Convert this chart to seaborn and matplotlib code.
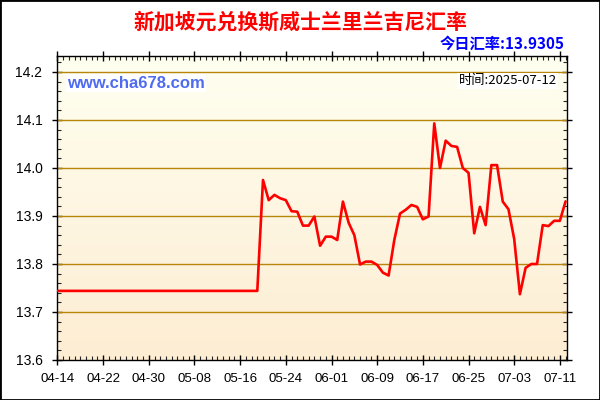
import numpy as np
import pandas as pd
import matplotlib
matplotlib.use("Agg")
import matplotlib.pyplot as plt
import matplotlib.dates as mdates
from matplotlib.colors import LinearSegmentedColormap
from matplotlib.patches import Rectangle
import seaborn as sns

title = "新加坡元兑换斯威士兰里兰吉尼汇率"
today_text = "今日汇率:13.9305"
time_text = "时间:2025-07-12"
site_text = "www.cha678.com"

start_date = "2025-04-14"
end_date = "2025-07-12"
rates = [
    13.744, 13.744, 13.744, 13.744, 13.744, 13.744, 13.744, 13.744, 13.744, 13.744,
    13.744, 13.744, 13.744, 13.744, 13.744, 13.744, 13.744, 13.744, 13.744, 13.744,
    13.744, 13.744, 13.744, 13.744, 13.744, 13.744, 13.744, 13.744, 13.744, 13.744,
    13.744, 13.744, 13.744, 13.744, 13.744, 13.744,
    13.975, 13.933, 13.944, 13.937, 13.933, 13.910, 13.909, 13.880, 13.880, 13.899,
    13.838, 13.857, 13.857, 13.850, 13.930, 13.886, 13.860, 13.799, 13.805, 13.805,
    13.798, 13.782, 13.776, 13.850, 13.905, 13.913, 13.923, 13.919, 13.893, 13.899,
    14.093, 14.000, 14.057, 14.046, 14.044, 14.000, 13.990, 13.864, 13.919, 13.881,
    14.006, 14.006, 13.930, 13.914, 13.852, 13.737, 13.792, 13.800, 13.800, 13.881,
    13.879, 13.890, 13.890, 13.9305,
]
y_ticks = [13.6, 13.7, 13.8, 13.9, 14.0, 14.1, 14.2]
x_tick_labels = ["04-14", "04-22", "04-30", "05-08", "05-16", "05-24",
                 "06-01", "06-09", "06-17", "06-25", "07-03", "07-11"]

dates = pd.date_range(start_date, end_date, freq="D")
df = pd.DataFrame({"date": dates, "rate": rates})

sns.set_theme(style="white")
plt.rcParams["font.family"] = ["Liberation Sans", "Noto Sans CJK SC", "DejaVu Sans"]

fig = plt.figure(figsize=(6, 4), dpi=100)
fig.patch.set_facecolor("white")
ax = fig.add_axes([57 / 600, 1 - 360 / 400, 510 / 600, 304 / 400])

# gradient background
cmap = LinearSegmentedColormap.from_list("bg", ["#FDEDD3", "#FFFFF0"])
grad = np.linspace(0, 1, 256).reshape(-1, 1)
ax.imshow(grad, aspect="auto", cmap=cmap, origin="lower",
          extent=[0, 1, 0, 1], transform=ax.transAxes, zorder=0)

sns.lineplot(data=df, x="date", y="rate", ax=ax, color="#FF0000",
             linewidth=1.9, zorder=3)

ax.set_xlim(pd.Timestamp(start_date) - pd.Timedelta(hours=2),
            pd.Timestamp(end_date) + pd.Timedelta(hours=6))
ax.set_ylim(13.6, 14.2 + 16 / 480)

tick_dates = [pd.Timestamp(f"2025-{t}") for t in x_tick_labels]
ax.set_xticks(tick_dates)
ax.set_xticklabels(x_tick_labels)
ax.xaxis.set_minor_locator(mdates.DayLocator())
ax.set_yticks(y_ticks)
ax.set_yticklabels([f"{v:.1f}" for v in y_ticks])
ax.yaxis.set_minor_locator(matplotlib.ticker.MultipleLocator(0.02))

ax.grid(False)
for v in y_ticks[1:]:
    ax.axhline(v, color="#B8860B", linewidth=1.0, zorder=1)

for s in ax.spines.values():
    s.set_color("black")
    s.set_linewidth(1.0)
    s.set_visible(True)

ax.tick_params(axis="both", which="major", colors="black",
               length=7, width=1, direction="inout",
               top=True, right=True, bottom=True, left=True,
               labeltop=False, labelright=False)
ax.tick_params(axis="both", which="minor", length=3, width=0.8,
               direction="in", top=True, right=True, bottom=True, left=True)
ax.tick_params(axis="x", which="major", pad=6, labelsize=9.5)
ax.tick_params(axis="y", which="major", pad=7, labelsize=10)
ax.set_xlabel("")
ax.set_ylabel("")

fig.text(0.5, 1 - 22 / 400, title, ha="center", va="center", color="#FF0000",
         fontsize=15, fontweight="bold",
         family=["Noto Sans CJK SC", "DejaVu Sans"])
fig.text(565 / 600, 1 - 44 / 400, today_text, ha="right", va="center",
         color="#0000FF", fontsize=11, fontweight="bold",
         family=["Noto Sans CJK SC", "DejaVu Sans"])

ax.text(0.02, 0.911, site_text, transform=ax.transAxes, ha="left", va="center",
        color="#4F6BEF", fontsize=12, fontweight="bold", zorder=5,
        bbox=dict(facecolor="white", edgecolor="none", pad=1))
ax.text(0.98, 0.918, time_text, transform=ax.transAxes, ha="right", va="center",
        color="black", fontsize=9.5, zorder=5,
        family=["Noto Sans CJK SC", "DejaVu Sans"],
        bbox=dict(facecolor="white", edgecolor="none", pad=1))

fig.patches.append(Rectangle((0, 0), 1, 1, transform=fig.transFigure,
                             fill=False, edgecolor="black", linewidth=2))

fig.savefig("out.png", dpi=100)
